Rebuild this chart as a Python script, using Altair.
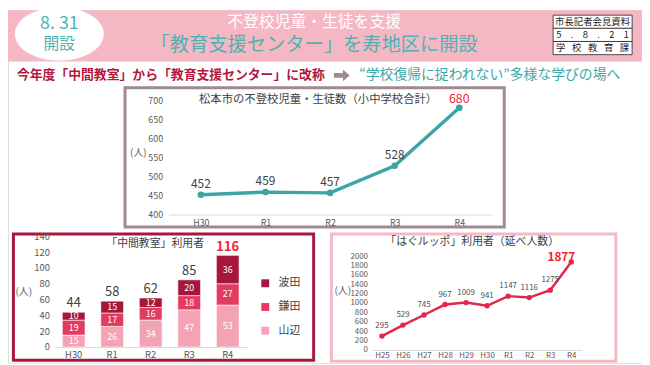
import altair as alt
import pandas as pd

FONT = "Noto Sans CJK JP"

# ---------------- data ----------------
years5 = ["H30", "R1", "R2", "R3", "R4"]
futoko = [452, 459, 457, 528, 680]

series_names = ["波田", "鎌田", "山辺"]
series_colors = ["#a5173d", "#e23b5f", "#f3a3b3"]
hata = [10, 15, 12, 20, 36]
kamada = [19, 17, 16, 18, 27]
yamabe = [15, 26, 34, 47, 53]

hag_years = ["H25", "H26", "H27", "H28", "H29", "H30", "R1", "R2", "R3", "R4"]
hagu = [295, 529, 745, 967, 1009, 941, 1147, 1116, 1275, 1877]

top_ticks = [400, 450, 500, 550, 600, 650, 700]
bl_ticks = [0, 20, 40, 60, 80, 100, 120, 140]
br_ticks = [0, 200, 400, 600, 800, 1000, 1200, 1400, 1600, 1800, 2000]

banner_date = "8. 31"
banner_open = "開設"
title1 = "不登校児童・生徒を支援"
title2 = "「教育支援センター」を寿地区に開設"
box_rows = ["市長記者会見資料",
            "5\u2003.\u20038\u2003.\u20032\u20031",
            "学\u2002\u2009校\u2002\u2009教\u2002\u2009育\u2002\u2009課"]
sub_left = "今年度「中間教室」から「教育支援センター」に改称"
sub_right = "“学校復帰に捉われない”多様な学びの場へ"
t_top = "松本市の不登校児童・生徒数（小中学校合計）"
t_bl = "「中間教室」利用者"
t_br = "「はぐルッポ」利用者（延べ人数）"
unit = "(人)"

W, H = 642, 357
TEAL = "#4cb3b4"
one = pd.DataFrame({"a": [0]})


def vtext(txt, x, y, size, color, weight="normal", align="center"):
    return alt.Chart(one).mark_text(
        text=txt, fontSize=size, color=color, fontWeight=weight,
        align=align, baseline="middle", font=FONT
    ).encode(x=alt.value(x), y=alt.value(y))


def vrect(x0, x1, y0, y1, fill, stroke=None, sw=0, fo=1):
    kw = dict(fill=fill, fillOpacity=fo)
    if stroke:
        kw.update(stroke=stroke, strokeWidth=sw)
    return alt.Chart(one).mark_rect(**kw).encode(
        x=alt.value(x0), x2=alt.value(x1), y=alt.value(y0), y2=alt.value(y1))


layers = []

# ---------------- header ----------------
layers.append(vrect(0, W, 0, 52, "#f4b7c3"))
ellipse = "M-1.667,0 A1.667,1 0 1,1 1.667,0 A1.667,1 0 1,1 -1.667,0 Z"
layers.append(alt.Chart(one).mark_point(shape=ellipse, filled=True, fill="white",
                                        opacity=1, size=2916, strokeWidth=0)
              .encode(x=alt.value(52), y=alt.value(24)))
layers.append(vtext(banner_date, 52, 14, 18, TEAL))
layers.append(vtext(banner_open, 52, 34, 16, TEAL))
layers.append(vtext(title1, 310, 12, 16, "white"))
layers.append(vtext(title2, 310, 35, 19.5, TEAL))
rh = 40 / 3
for i, t in enumerate(box_rows):
    layers.append(vrect(552, 632, 5 + i * rh, 5 + (i + 1) * rh, "white", "#222", 0.8))
    layers.append(vtext(t, 592, 5 + (i + 0.5) * rh, 9.5, "#222"))
layers.append(vtext(sub_left, 9, 66, 13, "#b3173d", "bold", "left"))
arrow = "M-1,-0.3 L0.15,-0.3 L0.15,-0.75 L1,0 L0.15,0.75 L0.15,0.3 L-1,0.3 Z"
layers.append(alt.Chart(one).mark_point(shape=arrow, filled=True, color="#9b8c90",
                                        opacity=1, size=256, strokeWidth=0)
              .encode(x=alt.value(338), y=alt.value(66)))
layers.append(vtext(sub_right, 620, 66, 14, "#3aa8a8", "normal", "right"))

# ---------------- frames ----------------
layers.append(vrect(118.5, 502.5, 78.5, 219.5, "white", "#9f8a91", 3, 0))
layers.append(vrect(5.5, 309.5, 226.5, 354.5, "white", "#a8173e", 3, 0))
layers.append(vrect(327.5, 615.5, 226.5, 355.5, "white", "#f5b9c6", 3, 0))


def xaxis(offset, size, pad):
    return alt.Axis(orient="bottom", offset=offset, title=None, ticks=False,
                    domainColor="#d9d9d9", labelFontSize=size, labelColor="#595959",
                    labelPadding=pad, labelAngle=0, labelFont=FONT, grid=False, zindex=1)


def yaxis(offset, size, pad, vals):
    return alt.Axis(orient="left", offset=offset, title=None, ticks=False, domain=False,
                    grid=False, values=vals, format="d", labelFontSize=size,
                    labelColor="#595959", labelPadding=pad, labelFont=FONT, zindex=1)


# ---------------- top line chart ----------------
df_top = pd.DataFrame({"year": years5, "v": futoko})
xs_top = alt.Scale(type="point", domain=years5, range=[162.6, 489.7])
ys_top = alt.Scale(domain=[400, 700], range=[207, 91])
xa_top = xaxis(207 - H, 9, 4)
ya_top = yaxis(-162.6, 9, 6, top_ticks)
base_top = alt.Chart(df_top).encode(
    x=alt.X("year:N", scale=xs_top, axis=xa_top),
    y=alt.Y("v:Q", scale=ys_top, axis=ya_top))
top_chart = alt.layer(
    base_top.mark_line(color="#3ba5a6", strokeWidth=3.5),
    base_top.mark_point(color="#3ba5a6", filled=True, opacity=1, size=45),
    base_top.transform_filter("datum.year != 'R4'").mark_text(
        dy=-11, fontSize=12, color="#404040", font=FONT).encode(text="v:Q"),
    base_top.transform_filter("datum.year == 'R4'").mark_text(
        dy=-9, fontSize=12.5, color="#f5222d", font=FONT).encode(text="v:Q"),
)
layers.append(top_chart)
layers.append(vtext(t_top, 314, 91, 11.5, "#404040"))
layers.append(vtext(unit, 132, 145, 10, "#595959"))

# ---------------- bottom-left stacked bars ----------------
rows = []
for i, yr in enumerate(years5):
    acc = 0
    for name, vals, o in [("山辺", yamabe, 0), ("鎌田", kamada, 1), ("波田", hata, 2)]:
        v = vals[i]
        rows.append({"year": yr, "name": name, "value": v, "ord": o, "mid": acc + v / 2})
        acc += v
df_bar = pd.DataFrame(rows)
df_tot = pd.DataFrame({"year": years5,
                       "total": [a + b + c for a, b, c in zip(hata, kamada, yamabe)]})
xs_bl = alt.Scale(type="band", domain=years5, range=[47, 242], paddingInner=0.41, paddingOuter=0.205)
ys_bl = alt.Scale(domain=[0, 140], range=[341, 229])
xa_bl = xaxis(341 - H, 9.5, 3)
ya_bl = yaxis(-47, 9.5, 5, bl_ticks)
bars = alt.Chart(df_bar).mark_bar(stroke="white", strokeWidth=0.6).encode(
    x=alt.X("year:N", scale=xs_bl, axis=xa_bl),
    y=alt.Y("value:Q", stack="zero", scale=ys_bl, axis=ya_bl),
    color=alt.Color("name:N", scale=alt.Scale(domain=series_names, range=series_colors),
                    legend=alt.Legend(title=None, orient="none", legendX=255, legendY=271,
                                      symbolType="square", symbolSize=64, symbolStrokeWidth=0,
                                      labelFontSize=11, labelColor="#404040", labelFont=FONT,
                                      rowPadding=12, labelOffset=8)),
    order=alt.Order("ord:Q"))
seg = alt.Chart(df_bar).mark_text(fontSize=9, color="white", font=FONT).encode(
    x=alt.X("year:N", scale=xs_bl, axis=xa_bl),
    y=alt.Y("mid:Q", scale=ys_bl, axis=ya_bl),
    text="value:Q")
tot_base = alt.Chart(df_tot).encode(
    x=alt.X("year:N", scale=xs_bl, axis=xa_bl),
    y=alt.Y("total:Q", scale=ys_bl, axis=ya_bl),
    text="total:Q")
bl_chart = alt.layer(
    bars, seg,
    tot_base.transform_filter("datum.year != 'R4'").mark_text(
        dy=-9, fontSize=13, color="#404040", font=FONT),
    tot_base.transform_filter("datum.year == 'R4'").mark_text(
        dy=-8, fontSize=13, fontWeight="bold", color="#f5222d", font=FONT),
)
layers.append(bl_chart)
layers.append(vtext(t_bl, 149, 237, 11, "#404040"))
layers.append(vtext(unit, 16, 285, 10, "#595959"))

# ---------------- bottom-right line chart ----------------
df_br = pd.DataFrame({"year": hag_years, "v": hagu})
xs_br = alt.Scale(type="point", domain=hag_years, range=[368, 581])
ys_br = alt.Scale(domain=[0, 2000], range=[344, 249])
xa_br = xaxis(344 - H, 8, 2)
ya_br = yaxis(-368, 8, 4, br_ticks)
base_br = alt.Chart(df_br).encode(
    x=alt.X("year:N", scale=xs_br, axis=xa_br),
    y=alt.Y("v:Q", scale=ys_br, axis=ya_br))
br_chart = alt.layer(
    base_br.mark_line(color="#e2264c", strokeWidth=2.5),
    base_br.mark_point(color="#e2264c", filled=True, opacity=1, size=30),
    base_br.transform_filter("datum.year != 'R4'").mark_text(
        dy=-10, fontSize=8, color="#505050", font=FONT).encode(text="v:Q"),
    base_br.transform_filter("datum.year == 'R4'").mark_text(
        dx=-10, dy=-5, fontSize=12, fontWeight="bold", color="#f5222d", font=FONT).encode(text="v:Q"),
)
layers.append(br_chart)
layers.append(vtext(t_br, 470, 235, 11, "#404040"))
layers.append(vtext(unit, 339, 284, 10, "#595959"))

chart = alt.layer(*layers).resolve_scale(
    x="independent", y="independent", color="independent"
).resolve_axis(x="independent", y="independent").properties(
    width=W, height=H, autosize=alt.AutoSizeParams(type="none"), padding=0,
    background="white"
).configure_view(stroke=None).configure(font=FONT)

chart.save("out.html", embed_options={"renderer": "svg", "actions": False})
